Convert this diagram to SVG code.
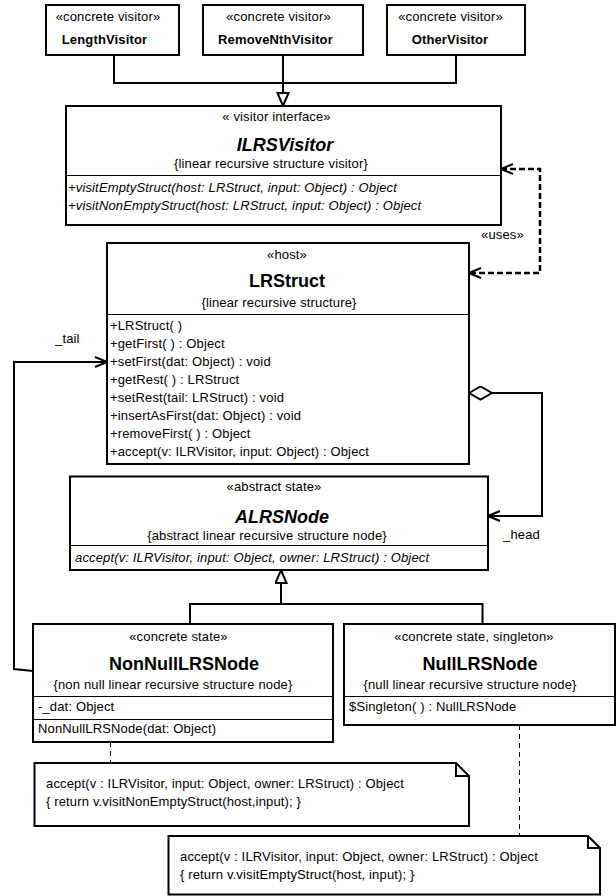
<svg xmlns="http://www.w3.org/2000/svg" width="616" height="896" viewBox="0 0 616 896">
<style>
.box{fill:#fff;stroke:#000;stroke-width:2}
.dv{stroke:#000;stroke-width:1}
.t{font-family:"Liberation Sans",Arial,sans-serif;font-size:13px;fill:#000;letter-spacing:0.15px}
.b{font-weight:bold}
.i{font-style:italic}
.ttl{font-size:18px;font-weight:bold;letter-spacing:0}
.c{text-anchor:middle}
.conn{fill:none;stroke:#000;stroke-width:2}
.dash{stroke-dasharray:6 3;stroke-width:2.5}
.thin{fill:none;stroke:#000;stroke-width:1;stroke-dasharray:5 4}
</style>
<defs>
<marker id="open" viewBox="-1 -1 14 12" refX="12" refY="5" markerWidth="14" markerHeight="12" orient="auto-start-reverse" markerUnits="userSpaceOnUse">
<path d="M0,0 L12,5 L0,10" fill="none" stroke="#000" stroke-width="2"/>
</marker>
<marker id="tri" viewBox="-1 -1 16 14" refX="13" refY="5.5" markerWidth="16" markerHeight="14" orient="auto" markerUnits="userSpaceOnUse">
<path d="M0,0 L13,5.5 L0,11 Z" fill="#fff" stroke="#000" stroke-width="2"/>
</marker>
<marker id="dia" viewBox="-1 -1 25 15" refX="0" refY="6.5" markerWidth="25" markerHeight="15" orient="auto" markerUnits="userSpaceOnUse">
<path d="M0,6.5 L11.5,0 L23,6.5 L11.5,13 Z" fill="#fff" stroke="#000" stroke-width="2"/>
</marker>
</defs>
<rect width="616" height="896" fill="#fff"/>

<g id="connectors">
<path class="conn" d="M114,55 V83 H456 V55"/>
<path class="conn" d="M283,55 V106" marker-end="url(#tri)"/>
<path class="conn dash" d="M501,169 H540 V273 H469" marker-start="url(#open)" marker-end="url(#open)"/>
<path class="conn" d="M33,671 L14,669 V362 H107" marker-end="url(#open)"/>
<path class="conn" d="M469,393 H542 V516 H488" marker-start="url(#dia)" marker-end="url(#open)"/>
<path class="conn" d="M281,604 V570" marker-end="url(#tri)"/>
<path class="conn" d="M190,624 V604 H482.5 V624"/>
<path class="thin" d="M110.5,742 V763"/>
<path class="thin" d="M519.5,725 V836"/>
<text class="t" x="481" y="239">«uses»</text>
<text class="t" x="55" y="343">_tail</text>
<text class="t" x="503" y="539">_head</text>
</g>

<g id="LengthVisitor">
<rect class="box" x="46" y="5" width="133" height="50"/>
<text class="t c" x="108" y="21">«concrete visitor»</text>
<text class="t b c" x="104.5" y="44">LengthVisitor</text>
</g>
<g id="RemoveNthVisitor">
<rect class="box" x="203" y="5" width="160" height="50"/>
<text class="t c" x="278.5" y="21">«concrete visitor»</text>
<text class="t b c" x="275.5" y="44">RemoveNthVisitor</text>
</g>
<g id="OtherVisitor">
<rect class="box" x="387" y="5" width="138" height="50"/>
<text class="t c" x="450.5" y="21">«concrete visitor»</text>
<text class="t b c" x="450" y="44">OtherVisitor</text>
</g>

<g id="ILRSVisitor">
<rect class="box" x="66" y="106" width="435" height="119"/>
<line class="dv" x1="66" y1="175.5" x2="501" y2="175.5"/>
<text class="t c" x="276.5" y="120.5">« visitor interface»</text>
<text class="t ttl i c" x="285" y="151">ILRSVisitor</text>
<text class="t c" x="271" y="167.5">{linear recursive structure visitor}</text>
<text class="t i" x="68" y="192">+visitEmptyStruct(host: LRStruct, input: Object) : Object</text>
<text class="t i" x="68" y="210">+visitNonEmptyStruct(host: LRStruct, input: Object) : Object</text>
</g>

<g id="LRStruct">
<rect class="box" x="107" y="243" width="362" height="221"/>
<line class="dv" x1="107" y1="314.5" x2="469" y2="314.5"/>
<text class="t c" x="287" y="259">«host»</text>
<text class="t ttl c" x="287" y="287">LRStruct</text>
<text class="t c" x="279" y="307">{linear recursive structure}</text>
<text class="t" x="110" y="330">+LRStruct( )</text>
<text class="t" x="110" y="348">+getFirst( ) : Object</text>
<text class="t" x="110" y="366">+setFirst(dat: Object) : void</text>
<text class="t" x="110" y="384">+getRest( ) : LRStruct</text>
<text class="t" x="110" y="402">+setRest(tail: LRStruct) : void</text>
<text class="t" x="110" y="420">+insertAsFirst(dat: Object) : void</text>
<text class="t" x="110" y="438">+removeFirst( ) : Object</text>
<text class="t" x="110" y="456">+accept(v: ILRVisitor, input: Object) : Object</text>
</g>

<g id="ALRSNode">
<rect class="box" x="70" y="476.5" width="418" height="93.5"/>
<line class="dv" x1="70" y1="545.5" x2="488" y2="545.5"/>
<text class="t c" x="274" y="491">«abstract state»</text>
<text class="t ttl i c" x="282" y="522.5">ALRSNode</text>
<text class="t c" x="267" y="540">{abstract linear recursive structure node}</text>
<text class="t i" x="75" y="562">accept(v: ILRVisitor, input: Object, owner: LRStruct) : Object</text>
</g>

<g id="NonNullLRSNode">
<rect class="box" x="33" y="624" width="300" height="118"/>
<line class="dv" x1="33" y1="696.5" x2="333" y2="696.5"/>
<line class="dv" x1="33" y1="719.5" x2="333" y2="719.5"/>
<text class="t c" x="178.5" y="641">«concrete state»</text>
<text class="t ttl c" x="184" y="670">NonNullLRSNode</text>
<text class="t c" x="173" y="689">{non null linear recursive structure node}</text>
<text class="t" x="38" y="711">-_dat: Object</text>
<text class="t" x="38" y="733">NonNullLRSNode(dat: Object)</text>
</g>

<g id="NullLRSNode">
<rect class="box" x="344" y="624" width="271" height="101"/>
<line class="dv" x1="344" y1="696.5" x2="615" y2="696.5"/>
<text class="t c" x="474" y="641">«concrete state, singleton»</text>
<text class="t ttl c" x="480" y="670">NullLRSNode</text>
<text class="t c" x="470" y="689">{null linear recursive structure node}</text>
<text class="t" x="349" y="711">$Singleton( ) : NullLRSNode</text>
</g>

<g id="note1">
<path class="box" d="M34.5,763 H456 L469,776 V826 H34.5 Z"/>
<path class="conn" d="M456,763 V776 H469"/>
<text class="t" x="46" y="788">accept(v : ILRVisitor, input: Object, owner: LRStruct) : Object</text>
<text class="t" x="46" y="806">{ return v.visitNonEmptyStruct(host,input); }</text>
</g>

<g id="note2">
<path class="box" d="M168.5,836 H588 L600,848 V894.5 H168.5 Z"/>
<path class="conn" d="M588,836 V848 H600"/>
<text class="t" x="180" y="861">accept(v : ILRVisitor, input: Object, owner: LRStruct) : Object</text>
<text class="t" x="180" y="879">{ return v.visitEmptyStruct(host, input); }</text>
</g>
</svg>
